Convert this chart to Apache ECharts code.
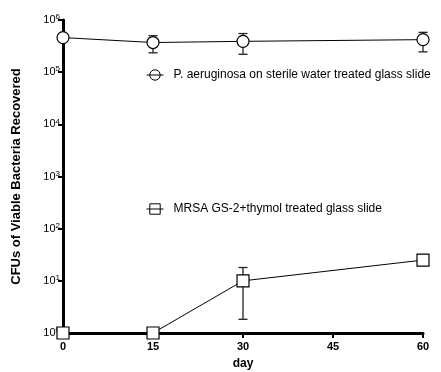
<!DOCTYPE html>
<html><head><meta charset="utf-8">
<script src="https://cdn.jsdelivr.net/npm/echarts@6/dist/echarts.min.js"></script>
<style>html,body{margin:0;padding:0;background:#fff}#c{width:441px;height:372px}</style>
</head><body><div id="c"></div>
<script>
const days = [0, 15, 30, 60];
const xTicks = [0, 15, 30, 45, 60];
const paName = 'P. aeruginosa on sterile water treated glass slide';
const paMean = [460000, 370000, 390000, 420000];
const paLow  = [460000, 235000, 220000, 245000];
const paHigh = [460000, 500000, 550000, 580000];
const mrName = 'MRSA GS-2+thymol treated glass slide';
const mrMean = [1, 1, 10, 25];
const mrLow  = [1, 1, 1.83, 25];
const mrHigh = [1, 1, 18, 25];

const font = '"Liberation Sans", Arial, sans-serif';
const chart = echarts.init(document.getElementById('c'));

function errData(low, high) {
  return days.map((d, i) => [d, low[i], high[i]]).filter(r => r[1] !== r[2]);
}
function errRender(params, api) {
  const x = api.value(0);
  const lo = api.coord([x, api.value(1)]);
  const hi = api.coord([x, api.value(2)]);
  const w = 4.5;
  const st = { stroke: '#222', lineWidth: 1.3 };
  return { type: 'group', children: [
    { type: 'line', shape: { x1: lo[0], y1: lo[1], x2: hi[0], y2: hi[1] }, style: st },
    { type: 'line', shape: { x1: lo[0]-w, y1: lo[1], x2: lo[0]+w, y2: lo[1] }, style: st },
    { type: 'line', shape: { x1: hi[0]-w, y1: hi[1], x2: hi[0]+w, y2: hi[1] }, style: st }
  ]};
}
const legendCommon = {
  itemWidth: 17, itemHeight: 13, selectedMode: false, itemGap: 12,
  itemStyle: { color: 'rgba(0,0,0,0)', borderColor: '#000', borderWidth: 1 },
  lineStyle: { color: '#000', width: 1 },
  textStyle: { fontFamily: font, fontSize: 12, color: '#000', padding: [0, 0, 0, 5] }
};

chart.setOption({
  animation: false,
  backgroundColor: '#fff',
  textStyle: { fontFamily: font },
  grid: { left: 63, right: 18, top: 20, bottom: 39, containLabel: false, outerBoundsMode: 'none' },
  legend: [
    Object.assign({ data: [paName], left: 141, top: 64 }, legendCommon),
    Object.assign({ data: [mrName], left: 141, top: 198 }, legendCommon)
  ],
  xAxis: {
    type: 'value', min: 0, max: 60, interval: 15,
    name: 'day', nameLocation: 'middle', nameGap: 25,
    nameTextStyle: { fontFamily: font, fontSize: 12, fontWeight: 'bold', color: '#000' },
    axisLine: { lineStyle: { color: '#000', width: 3 } },
    axisTick: { show: true, length: 5, lineStyle: { color: '#000', width: 2 } },
    axisLabel: { fontFamily: font, fontSize: 11, fontWeight: 'bold', color: '#000', margin: 8 },
    splitLine: { show: false }
  },
  yAxis: {
    type: 'log', logBase: 10, min: 1, max: 1000000,
    name: 'CFUs of Viable Bacteria Recovered', nameLocation: 'middle', nameGap: 40,
    nameTextStyle: { fontFamily: font, fontSize: 13, fontWeight: 'bold', color: '#000' },
    axisLine: { lineStyle: { color: '#000', width: 3 } },
    axisTick: { show: true, length: 5, lineStyle: { color: '#000', width: 2 } },
    axisLabel: {
      color: '#000', margin: 3,
      formatter: v => '{b|10}{s|' + Math.round(Math.log10(v)) + '}',
      rich: {
        b: { fontFamily: font, fontSize: 11, color: '#000' },
        s: { fontFamily: font, fontSize: 8, color: '#000', verticalAlign: 'top', padding: [0, 0, 6, 0] }
      }
    },
    splitLine: { show: false }
  },
  series: [
    { name: paName, type: 'line', data: days.map((d, i) => [d, paMean[i]]),
      symbol: 'circle', symbolSize: 12, z: 3,
      lineStyle: { color: '#000', width: 1 },
      itemStyle: { color: '#fff', borderColor: '#000', borderWidth: 1.2 } },
    { name: mrName, type: 'line', data: days.map((d, i) => [d, mrMean[i]]),
      symbol: 'rect', symbolSize: 12, z: 3,
      lineStyle: { color: '#000', width: 1 },
      itemStyle: { color: '#fff', borderColor: '#000', borderWidth: 1.2 } },
    { type: 'custom', renderItem: errRender, data: errData(paLow, paHigh), z: 2, clip: false, silent: true },
    { type: 'custom', renderItem: errRender, data: errData(mrLow, mrHigh), z: 2, clip: false, silent: true }
  ]
});
</script></body></html>
